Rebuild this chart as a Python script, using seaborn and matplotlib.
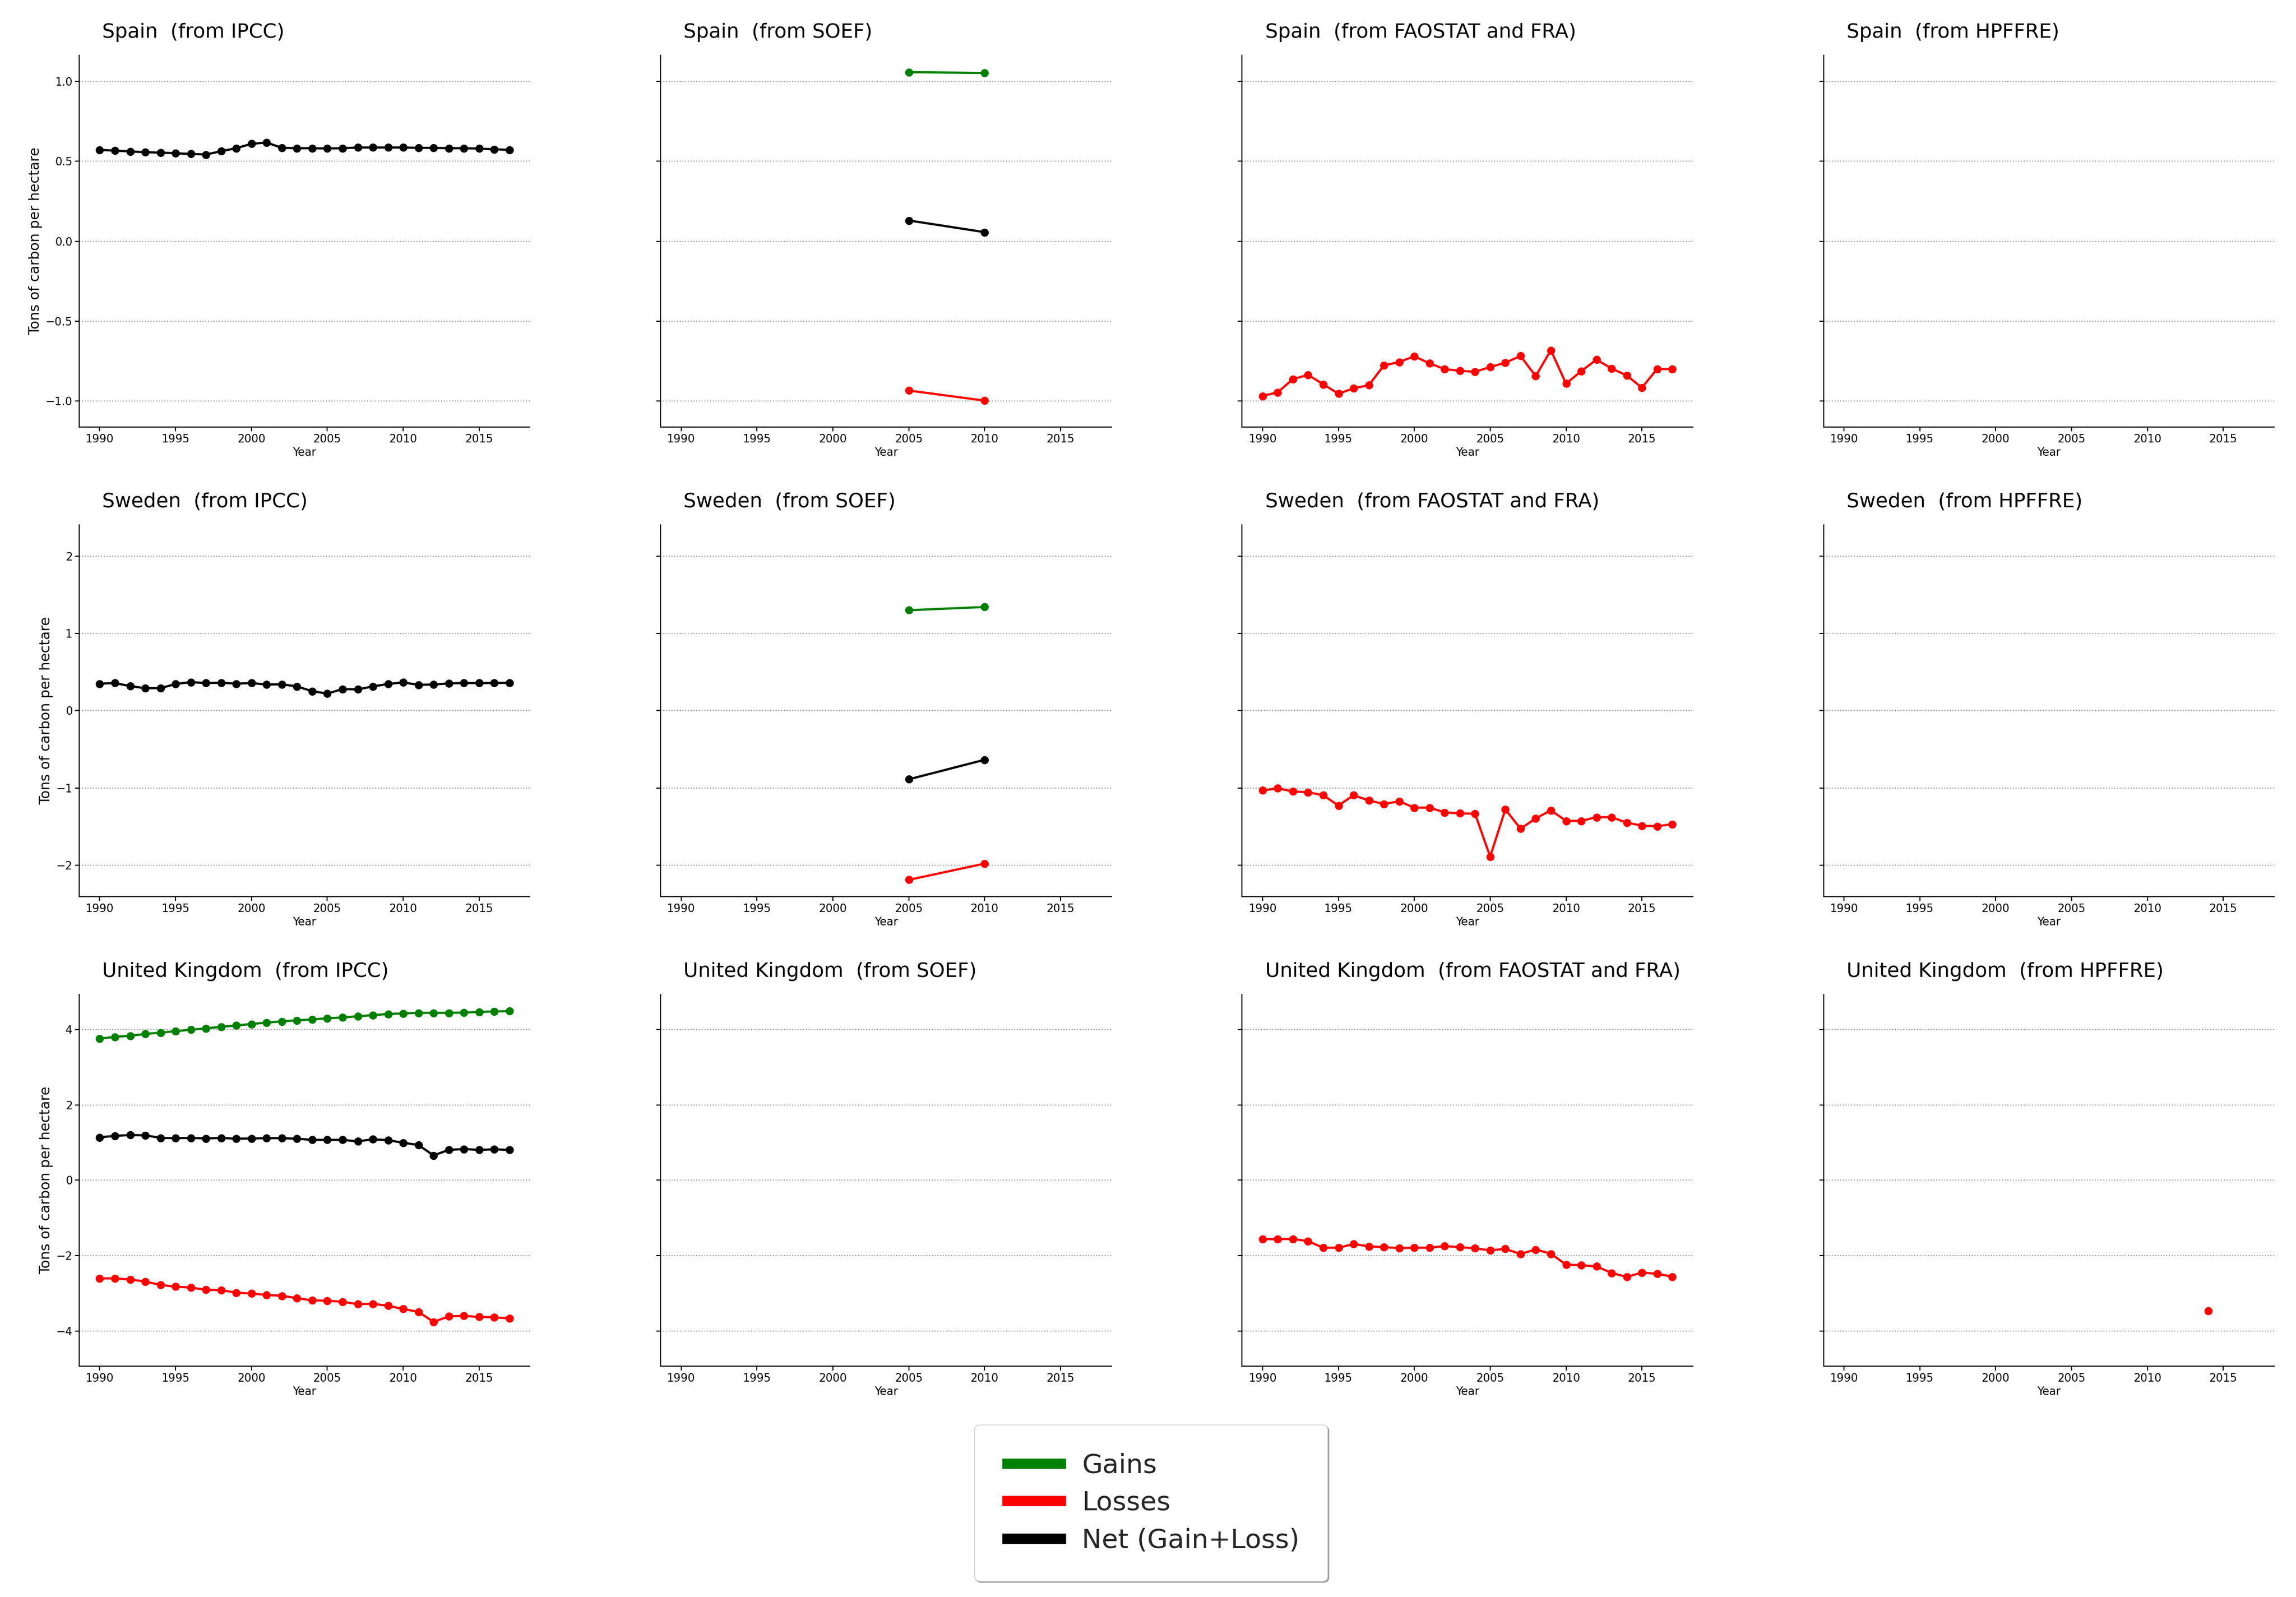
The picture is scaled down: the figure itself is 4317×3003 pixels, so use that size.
import pandas as pd
import matplotlib.pyplot as plt
import seaborn as sns
from matplotlib.lines import Line2D

# Years
years = list(range(1990, 2018))
soef_years = [2005, 2010]
hpffre_years = [2014]

countries = ['Spain', 'Sweden', 'United Kingdom']
sources = ['IPCC', 'SOEF', 'FAOSTAT and FRA', 'HPFFRE']

# Spain
spain_ipcc_net = [0.571, 0.567, 0.561, 0.557, 0.554, 0.550, 0.546, 0.542, 0.563, 0.582,
                  0.609, 0.617, 0.584, 0.582, 0.582, 0.580, 0.582, 0.586, 0.586, 0.586,
                  0.586, 0.584, 0.584, 0.582, 0.582, 0.579, 0.575, 0.571]
spain_soef_gain = [1.057, 1.052]
spain_soef_net = [0.130, 0.057]
spain_soef_loss = [-0.933, -0.996]
spain_fao_loss = [-0.967, -0.944, -0.862, -0.835, -0.894, -0.953, -0.919, -0.900, -0.776, -0.755,
                  -0.719, -0.763, -0.799, -0.810, -0.816, -0.786, -0.759, -0.717, -0.843, -0.681,
                  -0.890, -0.812, -0.740, -0.795, -0.839, -0.915, -0.799, -0.799]

# Sweden
sweden_ipcc_net = [0.350, 0.358, 0.319, 0.292, 0.292, 0.346, 0.370, 0.358, 0.362, 0.350,
                   0.358, 0.339, 0.342, 0.315, 0.253, 0.222, 0.280, 0.276, 0.315, 0.346,
                   0.366, 0.335, 0.339, 0.354, 0.358, 0.358, 0.358, 0.362]
sweden_soef_gain = [1.300, 1.342]
sweden_soef_net = [-0.887, -0.634]
sweden_soef_loss = [-2.187, -1.977]
sweden_fao_loss = [-1.031, -1.004, -1.043, -1.054, -1.093, -1.226, -1.093, -1.160, -1.206, -1.171,
                   -1.253, -1.253, -1.315, -1.327, -1.331, -1.887, -1.276, -1.525, -1.393, -1.288,
                   -1.424, -1.424, -1.377, -1.377, -1.447, -1.486, -1.494, -1.467]

# United Kingdom
uk_ipcc_gain = [3.757, 3.803, 3.833, 3.879, 3.917, 3.954, 3.992, 4.030, 4.068, 4.106,
                4.144, 4.182, 4.213, 4.243, 4.266, 4.296, 4.319, 4.349, 4.380, 4.410,
                4.425, 4.440, 4.440, 4.440, 4.448, 4.463, 4.478, 4.486]
uk_ipcc_net = [1.139, 1.176, 1.199, 1.192, 1.123, 1.116, 1.123, 1.108, 1.123, 1.101,
               1.108, 1.116, 1.116, 1.101, 1.070, 1.070, 1.070, 1.032, 1.085, 1.063,
               0.994, 0.934, 0.660, 0.805, 0.827, 0.805, 0.820, 0.805]
uk_ipcc_loss = [-2.603, -2.603, -2.634, -2.687, -2.778, -2.824, -2.846, -2.907, -2.915, -2.983,
                -3.006, -3.044, -3.066, -3.127, -3.188, -3.195, -3.226, -3.287, -3.279, -3.332,
                -3.416, -3.492, -3.757, -3.613, -3.598, -3.628, -3.636, -3.666]
uk_fao_loss = [-1.564, -1.564, -1.556, -1.617, -1.791, -1.791, -1.693, -1.753, -1.776, -1.799,
               -1.791, -1.791, -1.746, -1.776, -1.806, -1.860, -1.822, -1.958, -1.837, -1.951,
               -2.239, -2.254, -2.285, -2.459, -2.565, -2.452, -2.482, -2.558]
uk_hpffre_loss = [-3.469]

kinds = ['Gains', 'Losses', 'Net (Gain+Loss)']
colors = {'Gains': 'green', 'Losses': 'red', 'Net (Gain+Loss)': 'black'}

# build a long table: country, source, kind, year, value
rows = []
def add(country, source, kind, yrs, vals):
    for y, v in zip(yrs, vals):
        rows.append({'country': country, 'source': source, 'kind': kind, 'year': y, 'value': v})

add('Spain', 'IPCC', 'Net (Gain+Loss)', years, spain_ipcc_net)
add('Spain', 'SOEF', 'Gains', soef_years, spain_soef_gain)
add('Spain', 'SOEF', 'Net (Gain+Loss)', soef_years, spain_soef_net)
add('Spain', 'SOEF', 'Losses', soef_years, spain_soef_loss)
add('Spain', 'FAOSTAT and FRA', 'Losses', years, spain_fao_loss)
add('Sweden', 'IPCC', 'Net (Gain+Loss)', years, sweden_ipcc_net)
add('Sweden', 'SOEF', 'Gains', soef_years, sweden_soef_gain)
add('Sweden', 'SOEF', 'Net (Gain+Loss)', soef_years, sweden_soef_net)
add('Sweden', 'SOEF', 'Losses', soef_years, sweden_soef_loss)
add('Sweden', 'FAOSTAT and FRA', 'Losses', years, sweden_fao_loss)
add('United Kingdom', 'IPCC', 'Gains', years, uk_ipcc_gain)
add('United Kingdom', 'IPCC', 'Net (Gain+Loss)', years, uk_ipcc_net)
add('United Kingdom', 'IPCC', 'Losses', years, uk_ipcc_loss)
add('United Kingdom', 'FAOSTAT and FRA', 'Losses', years, uk_fao_loss)
add('United Kingdom', 'HPFFRE', 'Losses', hpffre_years, uk_hpffre_loss)
df = pd.DataFrame(rows)

yticks = {'Spain': [-1.0, -0.5, 0.0, 0.5, 1.0],
          'Sweden': [-2, -1, 0, 1, 2],
          'United Kingdom': [-4, -2, 0, 2, 4]}

sns.set_style('ticks')
plt.rcParams['font.family'] = ['DejaVu Sans']

fig, axes = plt.subplots(3, 4, figsize=(43.17, 30.03), dpi=100, sharey='row')
plt.subplots_adjust(left=0.0345, right=0.9905, top=0.9654, bottom=0.1445,
                    wspace=0.29, hspace=0.262)

span = max(years) - min(years)
xlim = (min(years) - 0.05 * span, max(years) + 0.05 * span)

for i, country in enumerate(countries):
    cdf = df[df['country'] == country]
    lim = 1.1 * cdf['value'].abs().max()
    for j, source in enumerate(sources):
        ax = axes[i, j]
        sub = cdf[cdf['source'] == source]
        for kind in kinds:
            k = sub[sub['kind'] == kind]
            if len(k) == 0:
                continue
            c = colors[kind]
            sns.lineplot(x=k['year'], y=k['value'], ax=ax, color=c, marker='o',
                         markersize=11, markeredgecolor=c, markeredgewidth=0,
                         linewidth=3, errorbar=None, legend=False)
        ax.set_xlim(xlim)
        ax.set_ylim(-lim, lim)
        ax.set_xticks(list(range(1990, 2016, 5)))
        ax.set_yticks(yticks[country])
        ax.yaxis.grid(True, linestyle=':', color='0.6', linewidth=1.4)
        ax.set_axisbelow(True)
        ax.tick_params(labelsize=15, length=5.5, width=1.5, color='black', labelcolor='black')
        for s in ['left', 'bottom']:
            ax.spines[s].set_linewidth(1.5)
            ax.spines[s].set_color('black')
        sns.despine(ax=ax)
        ax.set_xlabel('Year', fontsize=15, color='black')
        if j == 0:
            ax.set_ylabel('Tons of carbon per hectare', fontsize=19, color='black')
        else:
            ax.set_ylabel('')
        ax.text(0.051, 1.047, country + '  (from ' + source + ')', transform=ax.transAxes,
                fontsize=27, ha='left', va='baseline', color='black')

handles = [Line2D([0], [0], color=colors[k], linewidth=14, solid_capstyle='butt') for k in kinds]
fig.legend(handles, kinds, loc='upper center', bbox_to_anchor=(0.5012, 0.108),
           borderaxespad=0, fontsize=36, fancybox=True, shadow=True, framealpha=1,
           handlelength=2.4, handletextpad=0.6, labelspacing=0.45, borderpad=1.05)

plt.savefig('out.png', dpi=100)
